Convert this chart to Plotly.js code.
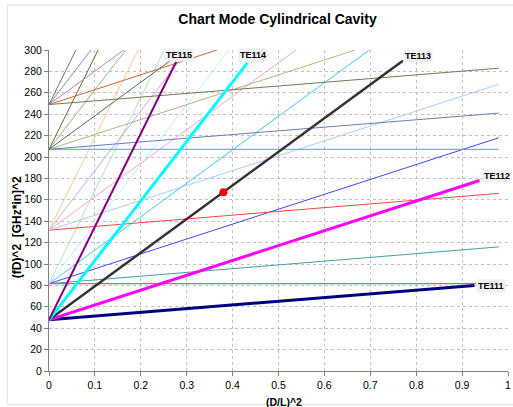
<!DOCTYPE html>
<html>
<head>
<meta charset="utf-8">
<script src="https://cdn.plot.ly/plotly-3.0.1.min.js"></script>
<style>html,body{margin:0;padding:0;background:#fff;}#chart{width:513px;height:407px;}</style>
</head>
<body>
<div id="chart"></div>
<script>
// Mode lines: start (x0,y0) and end (x1,y1)
const modeNames = ["TM010","TM011","TM012","TM013","TM014","TM015",
  "TE211","TE212","TE213","TE214","TE215",
  "TM110","TE011","TE012","TE013","TE014","TE015",
  "TE311","TE312","TE313","TE314","TE315"];
const modeX0 = [0,0,0,0,0,0, 0,0,0,0,0, 0,0,0,0,0,0, 0,0,0,0,0];
const modeY0 = [81.6,81.6,81.6,81.6,81.6,81.6, 131.6,131.6,131.6,131.6,131.6,
  207.2,207.2,207.2,207.2,207.2,207.2, 249,249,249,249,249];
const modeX1 = [0.93,0.98,0.98,0.698,0.392,0.251, 0.98,0.98,0.538,0.302,0.194,
  0.98,0.98,0.667,0.296,0.167,0.107, 0.98,0.366,0.163,0.0916,0.0586];
const modeY1 = [81.6,116,218,300,300,300, 166,268,300,300,300,
  207.2,241,300,300,300,300, 283,300,300,300,300];
const modeColors = ["#a8504b","#40a0a0","#4444ff","#40c8f0","#b8f0f8","#b0e8b0",
  "#ff4444","#a8cdf5","#f5a8c8","#c8a8f5","#ffc890",
  "#6690ff","#6a7fb0","#b3b385","#4d6b5a","#88c070","#666633",
  "#777755","#cc6633","#c080a8","#8888dd","#667766"];

// Highlighted TE11p modes
const teNames = ["TE111","TE112","TE113","TE114","TE115"];
const teX0 = [0,0,0,0,0];
const teY0 = [47.8,47.8,47.8,47.8,47.8];
const teX1 = [0.927,0.938,0.771,0.432,0.277];
const teY1 = [80,178,290,288,289];
const teColors = ["#000080","#ff00ff","#333333","#00ffff","#800080"];
const teWidths = [3,3,2.5,3,2];

// Operating point
const pointX = [0.38];
const pointY = [167];

const font = "Liberation Sans, Arial, sans-serif";
const traces = [];
modeNames.forEach((n,i)=>{
  traces.push({type:"scatter",mode:"lines",name:n,
    x:[modeX0[i],modeX1[i]], y:[modeY0[i],modeY1[i]],
    line:{color:modeColors[i],width:1}, hoverinfo:"skip"});
});
teNames.forEach((n,i)=>{
  traces.push({type:"scatter",mode:"lines",name:n,
    x:[teX0[i],teX1[i]], y:[teY0[i],teY1[i]],
    line:{color:teColors[i],width:teWidths[i]}, hoverinfo:"skip"});
});
traces.push({type:"scatter",mode:"markers",x:pointX,y:pointY,
  marker:{color:"#ff0000",size:8}});

// label placement (style only)
const lblXanchor = ["left","left","left","center","center"];
const lblYanchor = ["middle","middle","middle","bottom","bottom"];
const lblXshift = [2,2,0,6,3];
const lblYshift = [-1,5,5,1,0];
const annotations = teNames.map((n,i)=>({
  x:teX1[i], y:teY1[i], xref:"x", yref:"y", text:"<b>"+n+"</b>",
  showarrow:false, xanchor:lblXanchor[i], yanchor:lblYanchor[i], xshift:lblXshift[i], yshift:lblYshift[i],
  bgcolor:"#f0f0f0", borderpad:1,
  font:{family:font,size:9,color:"#000"}
}));
annotations.push({xref:"paper",yref:"paper",x:0.512,y:-0.096,yanchor:"middle",
  text:"<b>(D/L)^2</b>",showarrow:false,font:{family:font,size:10.5,color:"#000"}});
annotations.push({xref:"paper",yref:"paper",x:-0.071,y:0.449,xanchor:"center",yanchor:"middle",textangle:-90,
  text:"<b>(fD)^2&nbsp;&nbsp;[GHz*in]^2</b>",showarrow:false,font:{family:font,size:12,color:"#000"}});

const layout = {
  width:513, height:407,
  margin:{l:49,r:5,t:50,b:36.3},
  paper_bgcolor:"#fff", plot_bgcolor:"#fff",
  showlegend:false,
  title:{text:"<b>Chart Mode Cylindrical Cavity</b>", x:0.541, xanchor:"center", y:0.952, yanchor:"middle",
    font:{family:font,size:14,color:"#000"}},
  xaxis:{range:[0,1], dtick:0.1, tick0:0, showgrid:true, gridcolor:"#c0c0c0", griddash:"dot", gridwidth:1,
    zeroline:false, showline:true, linecolor:"#808080", linewidth:1, ticks:"outside", ticklen:4, tickcolor:"#808080",
    tickfont:{family:font,size:10.5,color:"#000"}, fixedrange:true},
  yaxis:{range:[0,300], dtick:20, tick0:0, showgrid:true, gridcolor:"#c0c0c0", griddash:"dot", gridwidth:1,
    zeroline:false, showline:true, linecolor:"#808080", linewidth:1, ticks:"outside", ticklen:4, tickcolor:"#808080",
    tickfont:{family:font,size:10.5,color:"#000"}, fixedrange:true},
  annotations:annotations,
  shapes:[{type:"rect",xref:"paper",yref:"paper",x0:-0.091,x1:1.02,y0:-0.105,y1:1.14,line:{color:"#e0e0e0",width:1}}]
};
Plotly.newPlot("chart",traces,layout,{staticPlot:true,displayModeBar:false});
</script>
</body>
</html>
